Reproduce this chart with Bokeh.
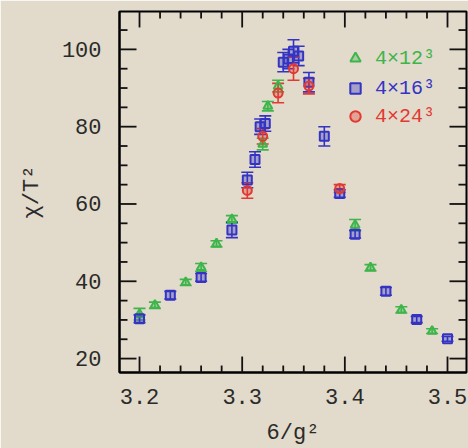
from bokeh.plotting import figure
from bokeh.models import (ColumnDataSource, Range1d, Whisker, TeeHead, Legend, LegendItem)
from bokeh.embed import file_html
from bokeh.resources import INLINE

# ---- data ----
x12 = [3.200, 3.215, 3.245, 3.260, 3.275, 3.290, 3.320, 3.325, 3.335, 3.410, 3.425, 3.455, 3.485]
y12 = [31.5, 33.8, 39.7, 43.6, 49.7, 56.0, 75.5, 85.3, 90.5, 54.5, 43.5, 32.6, 27.1]
e12 = [1.5, 0.8, 0.8, 1.0, 0.8, 1.0, 1.5, 1.2, 1.5, 1.5, 0.8, 0.8, 0.6]

x16 = [3.200, 3.230, 3.260, 3.290, 3.305, 3.3125, 3.3175, 3.3225, 3.340, 3.345, 3.350, 3.355,
       3.365, 3.380, 3.395, 3.410, 3.440, 3.470, 3.500]
y16 = [30.3, 36.4, 41.0, 53.3, 66.2, 71.5, 80.0, 80.8, 96.7, 97.5, 99.5, 98.3,
       91.5, 77.5, 62.7, 52.2, 37.4, 30.1, 25.1]
e16 = [1.0, 1.0, 1.0, 2.0, 2.0, 2.0, 2.0, 2.0, 2.5, 2.5, 3.0, 2.5,
       2.5, 2.5, 1.0, 1.0, 1.0, 0.8, 0.6]

x24 = [3.305, 3.320, 3.335, 3.350, 3.365, 3.395]
y24 = [63.5, 77.5, 88.7, 95.0, 90.5, 64.0]
e24 = [2.0, 2.0, 2.5, 3.0, 2.0, 1.0]

labels = ["4×12³", "4×16³", "4×24³"]
colors = ["#3db54a", "#3434c4", "#e23a32"]
markers = ["triangle", "square", "circle"]

x_major_ticks = [3.2, 3.3, 3.4, 3.5]
y_major_ticks = [20, 40, 60, 80, 100]

X0, X1 = 3.1805, 3.5185
Y0, Y1 = 16.4, 109.8

W, H = 468, 448
BL, BR, BT, BB = 119, 2, 11, 74
FW, FH = W - BL - BR, H - BT - BB

BG = "#e2dacb"
FONT = "Liberation Mono"
INK = "#2a2a2a"

p = figure(width=W, height=H, output_backend="svg", toolbar_location=None,
           x_range=Range1d(X0, X1), y_range=Range1d(Y0, Y1),
           min_border_left=BL, min_border_right=BR, min_border_top=BT, min_border_bottom=BB,
           background_fill_color=BG, border_fill_color=BG)
p.grid.visible = False
p.outline_line_color = "black"
p.outline_line_width = 2

for ax, ticks in ((p.xaxis[0], x_major_ticks), (p.yaxis[0], y_major_ticks)):
    ax.ticker = ticks
    ax.major_tick_in = 0
    ax.major_tick_out = 0
    ax.minor_tick_in = 0
    ax.minor_tick_out = 0
    ax.axis_line_color = "black"
    ax.axis_line_width = 2
    ax.major_label_text_font = FONT
    ax.major_label_text_font_size = "22px"
    ax.major_label_text_color = INK
    ax.axis_label_text_font = FONT
    ax.axis_label_text_font_style = "normal"
    ax.axis_label_text_font_size = "22px"
    ax.axis_label_text_color = INK

p.xaxis[0].axis_label = "6/g²"
p.yaxis[0].axis_label = "χ/T²"
p.xaxis[0].major_label_standoff = 16
p.yaxis[0].major_label_standoff = 18
p.xaxis[0].axis_label_standoff = 14
p.yaxis[0].axis_label_standoff = 14

series = [(x12, y12, e12), (x16, y16, e16), (x24, y24, e24)]
legend_bottoms = [301, 271, 243]

for (xs, ys, es), lab, col, mk, lb in zip(series, labels, colors, markers, legend_bottoms):
    src = ColumnDataSource(dict(x=xs, y=ys,
                                lo=[y - e for y, e in zip(ys, es)],
                                hi=[y + e for y, e in zip(ys, es)]))
    w = Whisker(source=src, base="x", lower="lo", upper="hi",
                line_color=col, line_width=1.6,
                upper_head=TeeHead(size=12, line_color=col, line_width=1.6),
                lower_head=TeeHead(size=12, line_color=col, line_width=1.6))
    p.add_layout(w)
    r = p.scatter("x", "y", source=src, marker=mk, size=9, line_color=col, line_width=2,
                  fill_color=col, fill_alpha=0.35)
    leg = Legend(items=[LegendItem(label=lab, renderers=[r])], location=(223, lb),
                 background_fill_alpha=0, border_line_alpha=0, padding=0, margin=0,
                 spacing=0, glyph_width=26, glyph_height=26, label_height=26,
                 label_standoff=7, label_text_font=FONT, label_text_font_size="20px",
                 label_text_color=col)
    p.add_layout(leg, "center")

# inward ticks on all four sides, drawn last, on the overlay level, as thin filled rectangles
dxpx = (X1 - X0) / FW
dypx = (Y1 - Y0) / FH
xstep = (x_major_ticks[1] - x_major_ticks[0]) / 5
ystep = (y_major_ticks[1] - y_major_ticks[0]) / 4

def minor_between(majors, step, lo, hi, nsub):
    out = []
    start = majors[0] - nsub * step
    k = 0
    while True:
        v = round(start + k * step, 6)
        if v > hi:
            break
        if lo < v < hi and all(abs(v - m) > 1e-6 for m in majors):
            out.append(v)
        k += 1
    return out

xmin_t = minor_between(x_major_ticks, xstep, X0, X1, 5)
ymin_t = minor_between(y_major_ticks, ystep, Y0, Y1, 4)

rx, ry, rw, rh = [], [], [], []
for xs, L in ((x_major_ticks, 16), (xmin_t, 7)):
    for v in xs:
        rx += [v, v]
        ry += [Y0 + (L / 2) * dypx, Y1 - (L / 2) * dypx]
        rw += [1.8, 1.8]
        rh += [L, L]
for ys, L in ((y_major_ticks, 17), (ymin_t, 8)):
    for v in ys:
        ry += [v, v]
        rx += [X0 + (L / 2) * dxpx, X1 - (L / 2) * dxpx]
        rw += [L, L]
        rh += [1.8, 1.8]

tick_src = ColumnDataSource(dict(x=rx, y=ry, w=rw, h=rh))
p.rect(x="x", y="y", width="w", height="h", width_units="screen", height_units="screen",
       fill_color="#111111", line_color=None, source=tick_src, level="overlay")

open("out.html", "w").write(file_html(p, INLINE))
